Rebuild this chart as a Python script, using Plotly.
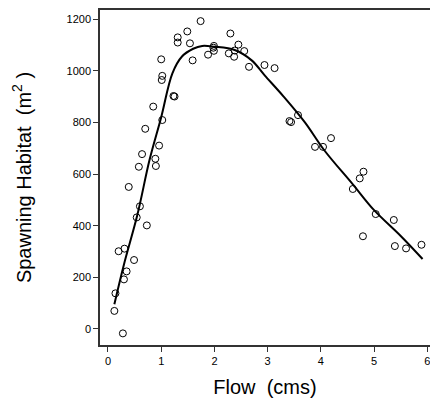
import plotly.graph_objects as go

flow = [0.12, 0.14, 0.28, 0.30, 0.35, 0.20, 0.31, 0.39, 0.49, 0.54, 0.60, 0.73, 0.58, 0.64,
        0.70, 0.85, 0.89, 0.90, 0.96, 1.02, 1.01, 1.02, 1.00, 1.23, 1.25, 1.31, 1.31, 1.49,
        1.54, 1.59, 1.74, 1.88, 1.98, 1.99, 1.99, 2.27, 2.30, 2.37, 2.38, 2.45, 2.56, 2.65,
        2.94, 3.13, 3.41, 3.44, 3.57, 3.89, 4.04, 4.19, 4.60, 4.73, 4.80, 4.79, 5.03, 5.37,
        5.39, 5.60, 5.89]
habitat = [70, 138, -17, 192, 223, 301, 311, 550, 267, 432, 475, 401, 628, 677,
           775, 861, 659, 631, 710, 809, 964, 980, 1044, 902, 900, 1129, 1109, 1152,
           1106, 1040, 1192, 1062, 1089, 1096, 1077, 1067, 1144, 1054, 1078, 1101, 1076, 1015,
           1022, 1010, 805, 801, 828, 705, 705, 739, 542, 583, 609, 359, 445, 422,
           321, 312, 326]

fit_x = [0.12, 0.3, 0.55, 0.78, 1.0, 1.21, 1.39, 1.6, 1.77, 2.0, 2.38, 2.7, 2.94, 3.3,
         3.7, 4.06, 4.6, 5.0, 5.5, 5.91]
fit_y = [96, 250, 440, 654, 820, 990, 1055, 1085, 1096, 1093, 1080, 1040, 983, 900,
         800, 693, 560, 460, 360, 271]

fig = go.Figure()
fig.add_trace(go.Scatter(x=fit_x, y=fit_y, mode="lines", line=dict(color="black", width=2, shape="spline")))
fig.add_trace(go.Scatter(x=flow, y=habitat, mode="markers",
                         marker=dict(symbol="circle-open", color="black", size=7, line=dict(width=1))))

axis_style = dict(showgrid=False, zeroline=False, showline=True, linecolor="#333", linewidth=1.5,
                  mirror=True, ticks="outside", ticklen=5, tickcolor="#333", automargin=False,
                  tickfont=dict(family="Arial", size=11, color="black"))
fig.update_xaxes(range=[-0.15, 6.05], tickvals=[0, 1, 2, 3, 4, 5, 6],
                 title=dict(text="Flow  (cms)", font=dict(family="Arial", size=20, color="black"), standoff=14),
                 **axis_style)
fig.update_yaxes(range=[-62, 1235], tickvals=[0, 200, 400, 600, 800, 1000, 1200],
                 title=dict(text="Spawning Habitat  (m<sup>2</sup> )", font=dict(family="Arial", size=20, color="black"), standoff=30),
                 **axis_style)
fig.update_layout(width=430, height=407, showlegend=False, plot_bgcolor="white", paper_bgcolor="white",
                  margin=dict(l=92, r=8, t=2, b=70))
fig.write_html("out.html")
